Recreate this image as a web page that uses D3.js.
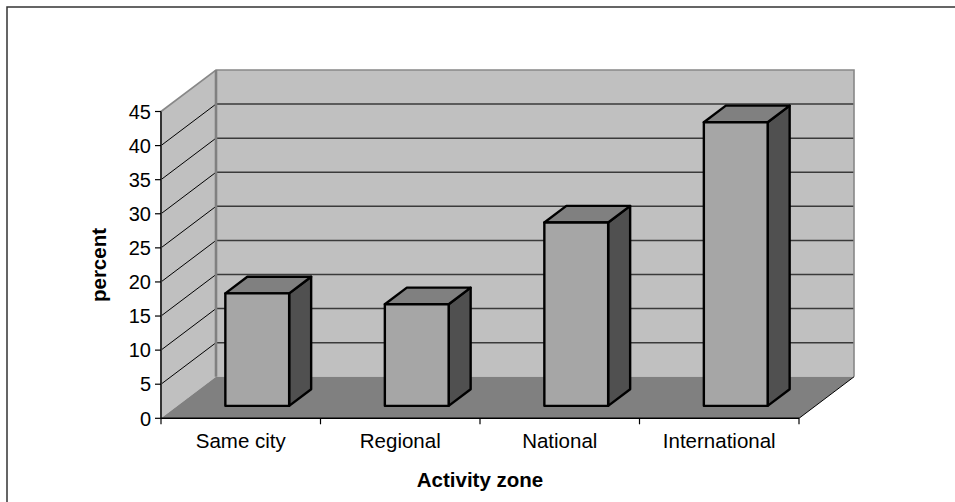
<!DOCTYPE html>
<html><head><meta charset="utf-8">
<script src="https://cdn.jsdelivr.net/npm/d3@7"></script>
<style>html,body{margin:0;padding:0;background:#fff;}svg{display:block;}</style>
</head><body>
<script>
const categories = ["Same city", "Regional", "National", "International"];
const values = [16.5, 14.9, 26.9, 41.6];
const yTicks = [0, 5, 10, 15, 20, 25, 30, 35, 40, 45];
const yTitle = "percent";
const xTitle = "Activity zone";

const W = 955, H = 502;
const svg = d3.select("body").append("svg").attr("width", W).attr("height", H);
const font = "'Liberation Sans', Arial, sans-serif";

// outer frame
svg.append("rect").attr("x", 7).attr("y", 7).attr("width", 960).attr("height", 500)
  .attr("fill", "#fff").attr("stroke", "#333").attr("stroke-width", 1.5);

const x0 = 161, x1 = 799;
const x = d3.scaleBand().domain(categories).range([x0, x1]).paddingInner(0.6).paddingOuter(0.3);
const y = d3.scaleLinear().domain([0, 45]).range([418.3, 111.5]);
const DX = 55, DY = -41.5;
const p = (xx, v, d) => [xx + d * DX, y(v) + d * DY];
const poly = pts => "M" + pts.map(q => q.join(",")).join("L") + "Z";
const line = pts => "M" + pts.map(q => q.join(",")).join("L");

const g = svg.append("g");
// side wall
g.append("path").attr("d", poly([p(x0, 0, 0), p(x0, 45, 0), p(x0, 45, 1), p(x0, 0, 1)])).attr("fill", "#c0c0c0");
// back wall
g.append("path").attr("d", poly([p(x0, 0, 1), p(x0, 45, 1), p(x1, 45, 1), p(x1, 0, 1)])).attr("fill", "#c0c0c0");
// floor
g.append("path").attr("d", poly([p(x0, 0, 0), p(x0, 0, 1), p(x1, 0, 1), p(x1, 0, 0)])).attr("fill", "#808080");

// gridlines
yTicks.filter(t => t > 0 && t < 45).forEach(t => {
  g.append("path").attr("d", line([p(x0, t, 0), p(x0, t, 1)])).attr("stroke", "#000").attr("stroke-width", 1).attr("fill", "none");
  g.append("path").attr("d", line([p(x0, t, 1), p(x1, t, 1)])).attr("stroke", "#3a3a3a").attr("stroke-width", 1.5).attr("fill", "none");
});
// wall edges
g.append("path").attr("d", line([p(x0, 45, 0), p(x0, 45, 1), p(x1, 45, 1), p(x1, 0, 1)]))
  .attr("stroke", "#888").attr("stroke-width", 1.6).attr("fill", "none");
g.append("path").attr("d", line([p(x0, 45, 1), p(x0, 0, 1)]))
  .attr("stroke", "#808080").attr("stroke-width", 2.6).attr("fill", "none");
// floor right edge
g.append("path").attr("d", line([p(x1, 0, 0), p(x1, 0, 1)])).attr("stroke", "#000").attr("stroke-width", 1).attr("fill", "none");

// bars
const dF = 0.3, dB = 0.7;
categories.forEach((c, i) => {
  const v = values[i];
  const a = x(c), b = x(c) + x.bandwidth();
  const bg = g.append("g").attr("stroke", "#000").attr("stroke-width", 2.4).attr("stroke-linejoin", "round");
  bg.append("path").attr("d", poly([p(b, 0, dF), p(b, 0, dB), p(b, v, dB), p(b, v, dF)])).attr("fill", "#505050");
  bg.append("path").attr("d", poly([p(a, v, dF), p(b, v, dF), p(b, v, dB), p(a, v, dB)])).attr("fill", "#808080");
  bg.append("path").attr("d", poly([p(a, 0, dF), p(b, 0, dF), p(b, v, dF), p(a, v, dF)])).attr("fill", "#a6a6a6");
});

// axes
g.append("path").attr("d", line([p(x0, 45, 0), p(x0, 0, 0)])).attr("stroke", "#333").attr("stroke-width", 2).attr("fill", "none");
g.append("path").attr("d", line([p(x0, 0, 0), p(x1, 0, 0)])).attr("stroke", "#000").attr("stroke-width", 1.5).attr("fill", "none");
yTicks.forEach(t => {
  g.append("line").attr("x1", x0 - 6).attr("x2", x0).attr("y1", y(t)).attr("y2", y(t)).attr("stroke", "#000").attr("stroke-width", 1.2);
  g.append("text").attr("x", x0 - 10).attr("y", y(t)).attr("dy", "0.36em").attr("text-anchor", "end")
    .attr("font-family", font).attr("font-size", 20).attr("fill", "#000").text(t);
});
d3.range(categories.length + 1).forEach(k => {
  const xx = x0 + k * x.step();
  g.append("line").attr("x1", xx).attr("x2", xx).attr("y1", y(0)).attr("y2", y(0) + 6).attr("stroke", "#000").attr("stroke-width", 1.2);
});
categories.forEach(c => {
  g.append("text").attr("x", x(c) + x.bandwidth() / 2).attr("y", 448).attr("text-anchor", "middle")
    .attr("font-family", font).attr("font-size", 20.5).attr("fill", "#000").text(c);
});
svg.append("text").attr("x", 480).attr("y", 487).attr("text-anchor", "middle")
  .attr("font-family", font).attr("font-size", 20.5).attr("font-weight", "bold").text(xTitle);
svg.append("text").attr("transform", "translate(106,265) rotate(-90)").attr("text-anchor", "middle")
  .attr("font-family", font).attr("font-size", 20.5).attr("font-weight", "bold").text(yTitle);
</script>
</body></html>
